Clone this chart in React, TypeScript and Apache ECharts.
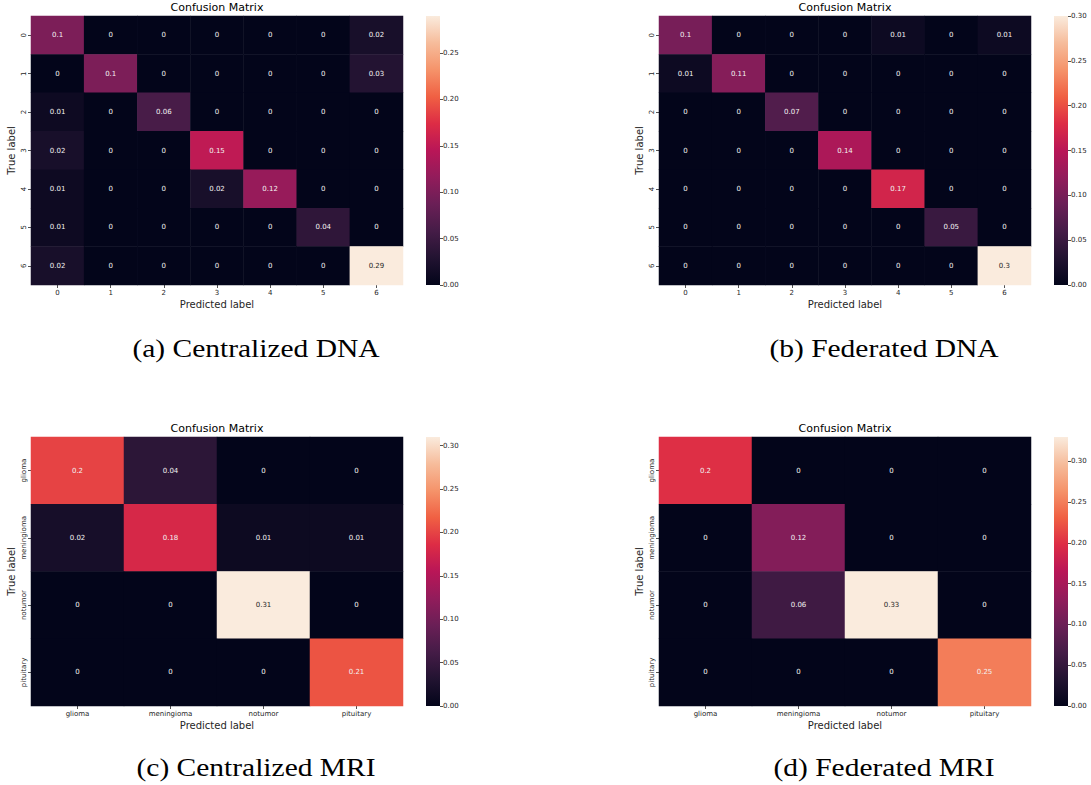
import React, { useEffect, useRef } from "react";
import * as echarts from "echarts";

// ---------- data ----------
const DNA_LABELS = ["0", "1", "2", "3", "4", "5", "6"];
const MRI_LABELS = ["glioma", "meningioma", "notumor", "pituitary"];

const CENTRALIZED_DNA = [
  [0.1, 0, 0, 0, 0, 0, 0.02],
  [0, 0.1, 0, 0, 0, 0, 0.03],
  [0.01, 0, 0.06, 0, 0, 0, 0],
  [0.02, 0, 0, 0.15, 0, 0, 0],
  [0.01, 0, 0, 0.02, 0.12, 0, 0],
  [0.01, 0, 0, 0, 0, 0.04, 0],
  [0.02, 0, 0, 0, 0, 0, 0.29],
];
const FEDERATED_DNA = [
  [0.1, 0, 0, 0, 0.01, 0, 0.01],
  [0.01, 0.11, 0, 0, 0, 0, 0],
  [0, 0, 0.07, 0, 0, 0, 0],
  [0, 0, 0, 0.14, 0, 0, 0],
  [0, 0, 0, 0, 0.17, 0, 0],
  [0, 0, 0, 0, 0, 0.05, 0],
  [0, 0, 0, 0, 0, 0, 0.3],
];
const CENTRALIZED_MRI = [
  [0.2, 0.04, 0, 0],
  [0.02, 0.18, 0.01, 0.01],
  [0, 0, 0.31, 0],
  [0, 0, 0, 0.21],
];
const FEDERATED_MRI = [
  [0.2, 0, 0, 0],
  [0, 0.12, 0, 0],
  [0, 0.06, 0.33, 0],
  [0, 0, 0, 0.25],
];

const VMAX = [0.29, 0.3, 0.31, 0.33];
const CB_TICKS_A = [0, 0.05, 0.1, 0.15, 0.2, 0.25];
const CB_TICKS_B = [0, 0.05, 0.1, 0.15, 0.2, 0.25, 0.3];
const CB_TICKS_C = [0, 0.05, 0.1, 0.15, 0.2, 0.25, 0.3];
const CB_TICKS_D = [0, 0.05, 0.1, 0.15, 0.2, 0.25, 0.3];

const CAPTIONS = [
  "(a) Centralized DNA",
  "(b) Federated DNA",
  "(c) Centralized MRI",
  "(d) Federated MRI",
];
const TITLE = "Confusion Matrix";
const X_NAME = "Predicted label";
const Y_NAME = "True label";

// seaborn "rocket"
const ROCKET = [
  "#03051a", "#221331", "#451c47", "#6a1f56", "#921c5b", "#b91657",
  "#dd2c45", "#f06043", "#f5936a", "#f6bc9b", "#faebdd",
];

// ---------- layout ----------
const PANELS = [
  { left: 31, top: 16, cb: 426, capX: 256, capY: 349 },
  { left: 659, top: 16, cb: 1054, capX: 884, capY: 349 },
  { left: 31, top: 437, cb: 426, capX: 256, capY: 768 },
  { left: 659, top: 437, cb: 1054, capX: 884, capY: 768 },
];
const GW = 372;
const GH = 269;
const CBW = 14;

export default function App() {
  const ref = useRef<HTMLDivElement>(null);

  useEffect(() => {
    document.body.style.margin = "0";
    if (!ref.current) return;
    const chart = echarts.init(ref.current, null, { renderer: "svg" });

    const matrices = [CENTRALIZED_DNA, FEDERATED_DNA, CENTRALIZED_MRI, FEDERATED_MRI];
    const labelsets = [DNA_LABELS, DNA_LABELS, MRI_LABELS, MRI_LABELS];
    const cbTicks = [CB_TICKS_A, CB_TICKS_B, CB_TICKS_C, CB_TICKS_D];
    const font = "DejaVu Sans";
    const tc = "#262626";

    const grid: any[] = [];
    const xAxis: any[] = [];
    const yAxis: any[] = [];
    const series: any[] = [];
    const visualMap: any[] = [];
    const title: any[] = [];
    const graphic: any[] = [];

    PANELS.forEach((p, i) => {
      const m = matrices[i];
      const labels = labelsets[i];
      const vmax = VMAX[i];
      // heatmap grid
      grid.push({ left: p.left, top: p.top, width: GW, height: GH });
      const hg = grid.length - 1;
      xAxis.push({
        type: "category",
        gridIndex: hg,
        data: labels,
        name: X_NAME,
        nameLocation: "middle",
        nameGap: 14,
        nameTextStyle: { fontSize: 10, color: tc, fontFamily: font },
        axisLine: { show: false },
        axisTick: { show: true, alignWithLabel: true, length: 3, lineStyle: { color: tc, width: 0.8 } },
        axisLabel: { fontSize: 7, color: tc, fontFamily: font, margin: 4, interval: 0 },
        splitLine: { show: false },
      });
      yAxis.push({
        type: "category",
        gridIndex: hg,
        data: labels,
        inverse: true,
        name: Y_NAME,
        nameLocation: "middle",
        nameGap: 15,
        nameRotate: 90,
        nameTextStyle: { fontSize: 10, color: tc, fontFamily: font },
        axisLine: { show: false },
        axisTick: { show: true, alignWithLabel: true, length: 3, lineStyle: { color: tc, width: 0.8 } },
        axisLabel: { fontSize: 7, color: tc, fontFamily: font, margin: 4, rotate: 90, interval: 0 },
        splitLine: { show: false },
      });
      const data: any[] = [];
      m.forEach((row, r) =>
        row.forEach((v, c) => {
          data.push({
            value: [c, r, v],
            label: { color: v / vmax > 0.85 ? "#262626" : "#f2f2f2" },
          });
        })
      );
      series.push({
        type: "heatmap",
        xAxisIndex: xAxis.length - 1,
        yAxisIndex: yAxis.length - 1,
        data,
        label: {
          show: true,
          fontSize: 7,
          fontFamily: font,
          color: "#f2f2f2",
          formatter: (pr: any) => String(pr.value[2]),
        },
        itemStyle: { borderWidth: 0 },
        emphasis: { disabled: true },
      });
      visualMap.push({
        type: "continuous",
        show: false,
        min: 0,
        max: vmax,
        seriesIndex: series.length - 1,
        inRange: { color: ROCKET },
      });

      // colorbar grid
      grid.push({ left: p.cb, top: p.top, width: CBW, height: GH });
      const cg = grid.length - 1;
      xAxis.push({
        type: "category",
        gridIndex: cg,
        data: ["cb"],
        show: false,
      });
      yAxis.push({
        type: "value",
        gridIndex: cg,
        min: 0,
        max: vmax,
        position: "right",
        axisLine: { show: false },
        splitLine: { show: false },
        axisTick: {
          show: true,
          length: 3,
          customValues: cbTicks[i],
          lineStyle: { color: tc, width: 0.8 },
        },
        axisLabel: {
          fontSize: 7,
          color: tc,
          fontFamily: font,
          margin: 3,
          customValues: cbTicks[i],
          formatter: (v: number) => v.toFixed(2),
        },
      });
      series.push({
        type: "bar",
        xAxisIndex: xAxis.length - 1,
        yAxisIndex: yAxis.length - 1,
        data: [vmax],
        barWidth: "100%",
        silent: true,
        itemStyle: {
          color: new echarts.graphic.LinearGradient(
            0, 1, 0, 0,
            ROCKET.map((c, k) => ({ offset: k / (ROCKET.length - 1), color: c }))
          ),
        },
      });

      title.push({
        text: TITLE,
        left: p.left + GW / 2,
        top: p.top - 14,
        padding: 0,
        textAlign: "center",
        textStyle: { fontSize: 11, fontWeight: "normal", color: "#000", fontFamily: font },
      });
      graphic.push({
        type: "text",
        x: p.capX,
        y: p.capY,
        scaleX: 1.18,
        style: {
          text: CAPTIONS[i],
          font: "25px 'Liberation Serif'",
          fill: "#000",
          textAlign: "center",
          textVerticalAlign: "middle",
        },
      });
    });

    chart.setOption({
      animation: false,
      backgroundColor: "#fff",
      title,
      grid,
      xAxis,
      yAxis,
      visualMap,
      series,
      graphic,
    });

    return () => chart.dispose();
  }, []);

  return <div ref={ref} style={{ width: 1091, height: 785 }} />;
}
